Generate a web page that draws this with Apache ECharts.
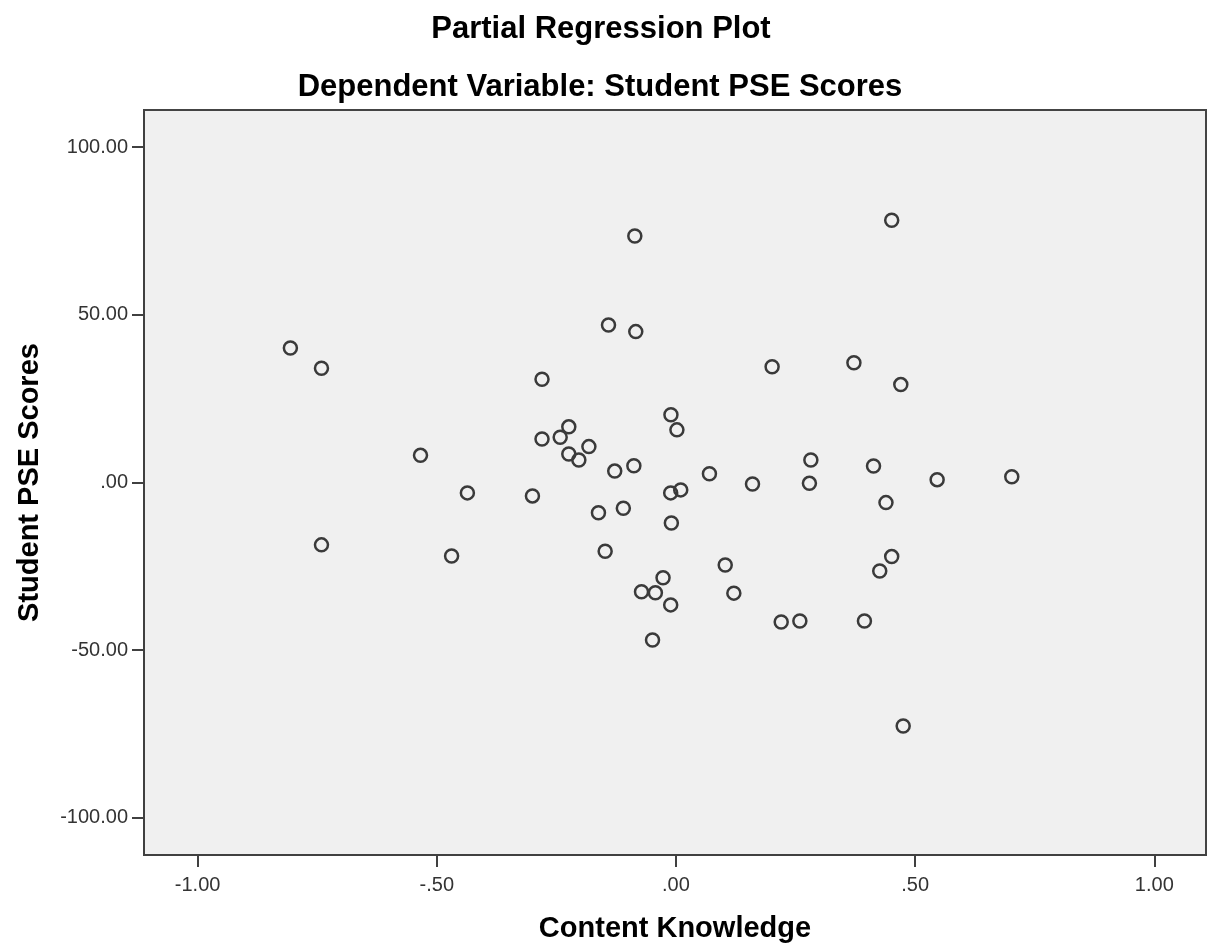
<!DOCTYPE html>
<html>
<head>
<meta charset="utf-8">
<script src="https://cdn.jsdelivr.net/npm/echarts@6/dist/echarts.min.js"></script>
<style>
html,body{margin:0;padding:0;background:#fff;}
#chart{width:1211px;height:945px;}
</style>
</head>
<body>
<div id="chart"></div>
<script>
// Content Knowledge (x) residuals
var xValues = [-0.806,-0.741,-0.741,-0.534,-0.469,-0.436,-0.300,-0.280,-0.280,-0.242,
  -0.224,-0.224,-0.203,-0.182,-0.162,-0.148,-0.141,-0.128,-0.110,-0.088,
  -0.086,-0.084,-0.072,-0.049,-0.043,-0.027,-0.011,-0.011,-0.0105,-0.0096,
  0.002,0.010,0.070,0.103,0.121,0.160,0.201,0.220,0.259,0.279,
  0.282,0.372,0.394,0.413,0.426,0.439,0.451,0.451,0.470,0.475,
  0.546,0.702];
// Student PSE Scores (y) residuals
var yValues = [40.1,34.1,-18.6,8.1,-21.9,-3.1,-4.0,30.8,13.0,13.5,
  16.6,8.5,6.7,10.7,-9.0,-20.5,47.0,3.4,-7.7,5.0,
  73.5,45.0,-32.6,-47.0,-32.9,-28.4,-3.1,-36.5,20.2,-12.1,
  15.7,-2.2,2.6,-24.6,-33.0,-0.45,34.5,-41.6,-41.3,-0.25,
  6.7,35.7,-41.3,4.9,-26.4,-6.0,78.2,-22.1,29.2,-72.6,
  0.85,1.7];
var xTicks = [-1, -0.5, 0, 0.5, 1];
var xTickLabels = ['-1.00', '-.50', '.00', '.50', '1.00'];
var yTicks = [-100, -50, 0, 50, 100];
var yTickLabels = ['-100.00', '-50.00', '.00', '50.00', '100.00'];

var points = xValues.map(function (x, i) { return [x, yValues[i]]; });
function lab(ticks, labels) {
  return function (v) {
    for (var i = 0; i < ticks.length; i++) if (Math.abs(ticks[i] - v) < 1e-9) return labels[i];
    return '';
  };
}
var FONT = "'Liberation Sans', Arial, sans-serif";
var chart = echarts.init(document.getElementById('chart'), null, {renderer: 'canvas'});
chart.setOption({
  animation: false,
  backgroundColor: '#ffffff',
  title: [
    {text: 'Partial Regression Plot', left: 601, textAlign: 'center', top: 14, padding: 0,
     textStyle: {fontFamily: FONT, fontSize: 31, fontWeight: 'bold', color: '#000'}},
    {text: 'Dependent Variable: Student PSE Scores', left: 600, textAlign: 'center', top: 72, padding: 0,
     textStyle: {fontFamily: FONT, fontSize: 31, fontWeight: 'bold', color: '#000'}}
  ],
  grid: {left: 144, right: 5, top: 110, bottom: 90, show: true, outerBoundsMode: 'none', containLabel: false,
    backgroundColor: '#f0f0f0', borderColor: '#444', borderWidth: 2},
  xAxis: {
    type: 'value', min: -1.112, max: 1.108,
    name: 'Content Knowledge', nameLocation: 'middle', nameGap: 59,
    nameTextStyle: {fontFamily: FONT, fontSize: 29, fontWeight: 'bold', color: '#000'},
    axisLine: {show: true, onZero: false, lineStyle: {color: '#404040', width: 2}},
    axisTick: {show: true, length: 12, inside: false, customValues: xTicks, lineStyle: {color: '#404040', width: 2}},
    axisLabel: {customValues: xTicks, formatter: lab(xTicks, xTickLabels), margin: 20,
      fontFamily: FONT, fontSize: 20, color: '#333'},
    splitLine: {show: false}
  },
  yAxis: {
    type: 'value', min: -111.1, max: 111.1,
    name: 'Student PSE Scores', nameLocation: 'middle', nameGap: 100,
    nameTextStyle: {fontFamily: FONT, fontSize: 29, fontWeight: 'bold', color: '#000'},
    axisLine: {show: true, onZero: false, lineStyle: {color: '#404040', width: 2}},
    axisTick: {show: true, length: 12, inside: false, customValues: yTicks, lineStyle: {color: '#404040', width: 2}},
    axisLabel: {customValues: yTicks, formatter: lab(yTicks, yTickLabels), margin: 16,
      fontFamily: FONT, fontSize: 20, color: '#333'},
    splitLine: {show: false}
  },
  series: [{
    type: 'scatter',
    data: points,
    symbol: 'circle',
    symbolSize: 13,
    itemStyle: {color: 'rgba(0,0,0,0)', borderColor: '#3a3a3a', borderWidth: 2.5, opacity: 1}
  }]
});
</script>
</body>
</html>
